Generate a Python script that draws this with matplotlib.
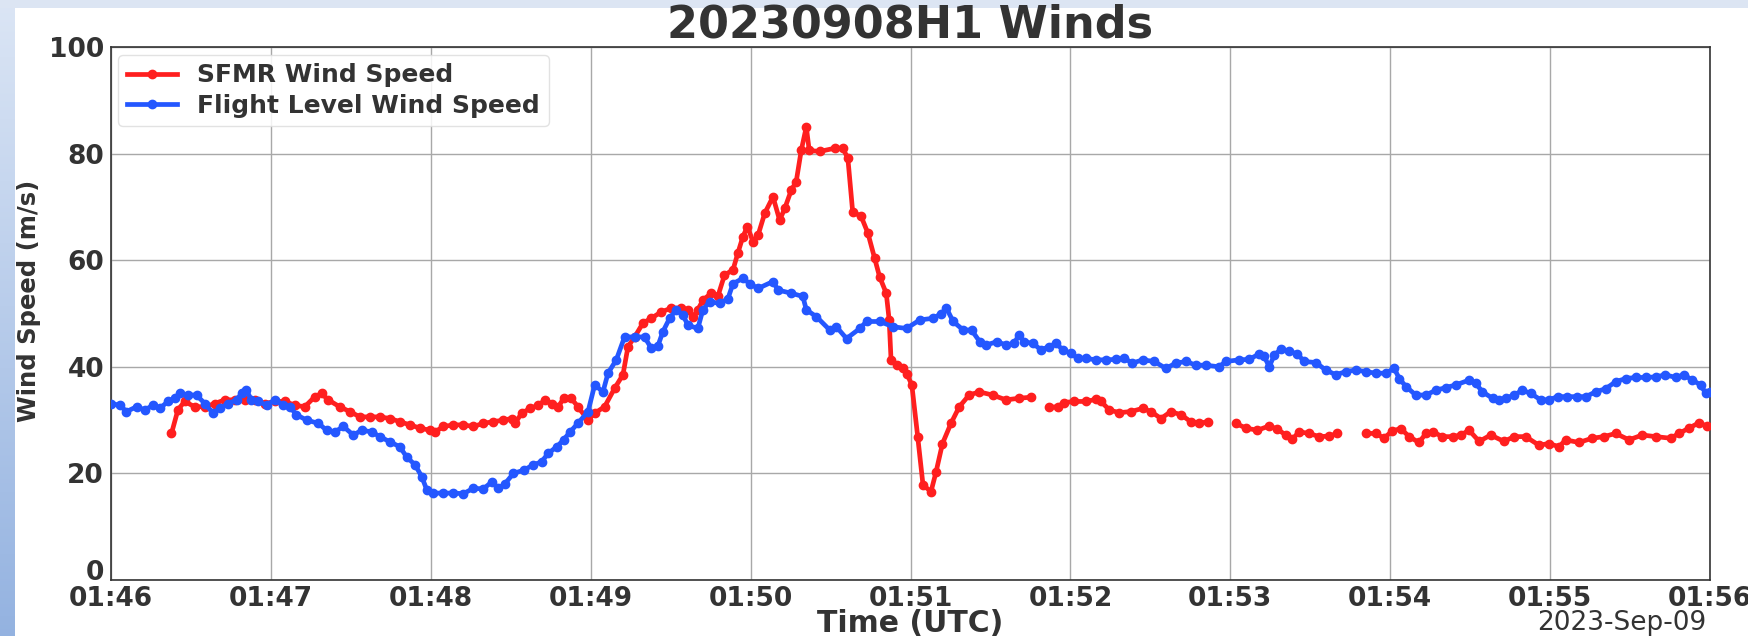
import numpy as np
import pandas as pd
import matplotlib
matplotlib.use("Agg")
import matplotlib.pyplot as plt
import matplotlib.dates as mdates
from matplotlib.patches import Rectangle

# ---------------- data (seconds after 2023-09-09 01:46:00 UTC, m/s) ----------------
fl_seconds = [0, 3.3, 5.8, 9.6, 12.7, 15.8, 18.3, 21.4, 23.9, 25.8, 28.9, 32.1, 35.2, 38.3, 40.8,
              44.0, 47.1, 49.0, 50.8, 52.7, 55.2, 58.4, 61.5, 64.6, 67.1, 69.6, 73.4, 77.8, 80.9,
              84.0, 87.2, 90.9, 94.1, 97.8, 100.9, 104.7, 108.4, 110.9, 114.1, 116.6, 118.5, 121,
              124.7, 128.5, 132.2, 136, 139.7, 142.9, 145.4, 147.9, 151.0, 154.8, 158.5, 161.6,
              164.1, 167.3, 169.8, 172.3, 175.2, 179, 181.5, 184.6, 186.5, 189.6, 192.7, 196.5,
              200.2, 202.7, 205.2, 207.1, 209.6, 212.1, 214.6, 216.5, 220.2, 222.1, 224.6, 228.4,
              231.5, 233.4, 237.1, 239.7, 242.8, 248.4, 250.3, 255.3, 259.6, 260.9, 264.7, 269.7,
              272.2, 276, 281, 283.5, 288.5, 293.5, 298.5, 303.5, 308.5, 311.6, 313.5, 316, 319.8,
              322.9, 326, 328.5, 332.3, 336, 339, 340.6, 342.7, 345.8, 349, 352.1, 354.6, 357.1,
              360.2, 362.7, 365.8, 369.6, 373.3, 377.1, 380.2, 383.3, 387.1, 391.5, 395.8, 399.6,
              403.4, 407.1, 410.8, 415.8, 418.3, 423.3, 427.1, 430.8, 432.7, 434.6, 436.5, 439,
              442.1, 445.2, 447.7, 452.1, 455.8, 459.6, 463.3, 467.1, 470.8, 474.6, 478.3, 481.5,
              483.4, 485.9, 489.6, 493.4, 497.1, 500.9, 504.6, 509.6, 512.1, 514.6, 518.4, 520.9,
              523.3, 526.5, 529.6, 532.7, 536.5, 539.6, 542.8, 546.5, 550.2, 553.4, 557.1, 560.9,
              564.6, 568.4, 572.1, 575.8, 579.6, 583.3, 587.1, 590.2, 593.4, 596.5, 598.4, 600]
fl_speed = [33.1, 32.8, 31.6, 32.5, 31.9, 32.8, 32.2, 33.5, 34.1, 35.0, 34.7, 34.7, 33.1, 31.3, 32.2,
            33.1, 33.8, 35.0, 35.6, 33.8, 33.5, 32.8, 33.8, 32.8, 32.5, 31.0, 30.0, 29.4, 28.1,
            27.8, 28.8, 27.2, 28.1, 27.8, 26.9, 25.9, 25.0, 23.1, 21.6, 19.4, 16.9, 16.3,
            16.3, 16.3, 16.2, 17.2, 17.1, 18.4, 17.2, 18.1, 20.0, 20.6, 21.6, 22.2,
            23.8, 25.0, 26.3, 27.8, 29.4, 31.6, 36.6, 35.3, 38.8, 41.3, 45.6, 45.6,
            45.6, 43.5, 43.9, 46.6, 49.1, 50.7, 49.7, 47.8, 47.2, 50.7, 52.2, 51.9,
            52.8, 55.6, 56.6, 55.6, 54.7, 56.0, 54.4, 53.8, 53.2, 50.7, 49.4, 46.9,
            47.5, 45.3, 47.2, 48.5, 48.5, 47.5, 47.2, 48.8, 49.1, 50.0, 51.0, 48.5, 46.9,
            46.9, 44.7, 44.1, 44.7, 44.1, 44.4, 46.0, 44.7, 44.4, 43.2, 43.8, 44.4, 43.2,
            42.5, 41.6, 41.6, 41.3, 41.3, 41.4, 41.6, 40.7, 41.3, 41.0, 39.7, 40.7,
            41.0, 40.3, 40.3, 40.0, 41.0, 41.3, 41.4, 42.4, 42.0, 40.0, 42.2, 43.3,
            42.9, 42.4, 41.0, 40.8, 39.4, 38.5, 39.1, 39.4, 39.1, 38.8, 38.8, 39.7,
            37.8, 36.3, 34.7, 34.7, 35.6, 36.1, 36.6, 37.5, 36.9, 35.3, 34.1, 33.8,
            34.1, 34.7, 35.6, 35.0, 33.8, 33.8, 34.4, 34.4, 34.4, 34.4, 35.3, 35.9,
            37.2, 37.8, 38.0, 38.0, 38.1, 38.5, 38.0, 38.5, 37.5, 36.6, 35.0, 35.3]

sfmr_seconds = [22.7, 25.1, 27.6, 31.4, 35.2, 38.9, 42.7, 46.4, 50.2, 53.9, 57.7, 61.5, 65.2, 69.0,
                72.7, 76.5, 79.0, 81.5, 85.8, 89.6, 93.4, 97.1, 100.9, 104.7, 108.4, 112.2, 115.9,
                119.7, 121.6, 124.7, 128.5, 132.2, 136, 139.7, 143.5, 147.2, 150.4, 151.6, 154.1,
                157.3, 160.4, 162.9, 165.4, 167.9, 169.8, 172.7, 175.2, 179, 181.5, 185.2, 189,
                192.1, 194, 196.5, 199.6, 202.7, 206.5, 210.2, 214, 216.5, 218.4, 220.2, 222.1,
                225.2, 227.7, 230.2, 233.4, 235.2, 237.1, 238.8, 240.9, 242.8, 245.3, 248.4, 250.9,
                252.8, 255.3, 257.1, 259, 260.9, 262, 265.9, 271.5, 274.6, 276.5, 278.3, 281.5, 284,
                286.5, 288.4, 290.9, 292, 292.7, 295, 297, 298.7, 300.5, 302.7, 304.7, 307.7, 309.6,
                312, 315.2, 318.3, 322, 325.8, 330.8, 335.8, 340.8, 345.2, 348.5,
                352.1, 355.2, 357.7, 361.5, 365.8, 369.6, 371.5, 374.6, 378.3, 382.7, 387.1, 390.2,
                394, 397.7, 401.5, 405.2, 408.3, 411.5, 416.5,
                422.1, 425.8, 430.2, 434.6, 437.7, 440.8, 443.3, 445.8, 449.6, 453.3, 457.1, 460.2,
                465.5,
                470.8, 474.6, 477.7, 480.8, 484, 487.1, 490.8, 493.4, 495.9, 499.6, 503.4, 506.5,
                509.6, 513.4, 517.7, 522.7, 526.5, 530.8, 535.8, 539.6, 543.4, 545.8, 550.8, 555.8,
                560.2, 564.6, 569.6, 574.6, 579.6, 585.2, 588.4, 592.1, 595.9, 599]
sfmr_speed = [27.5, 31.9, 33.5, 32.5, 32.5, 33.1, 33.8, 33.8, 33.8, 33.8, 33.1, 33.5, 33.5, 32.8,
              32.5, 34.4, 35.0, 33.8, 32.5, 31.6, 30.6, 30.6, 30.6, 30.3, 29.7, 29.1, 28.5,
              28.1, 27.8, 28.8, 29.1, 29.1, 28.8, 29.4, 29.7, 30.0, 30.3, 29.4, 31.3,
              32.2, 32.8, 33.8, 33.1, 32.5, 34.1, 34.1, 32.5, 30.0, 31.3, 32.5, 36.0,
              38.5, 43.8, 45.6, 48.2, 49.1, 50.3, 51.0, 51.0, 50.7, 49.4, 50.7, 52.5,
              53.8, 53.2, 57.2, 58.2, 61.3, 64.4, 66.3, 63.5, 64.7, 68.8, 71.9, 67.5,
              69.7, 73.2, 74.7, 80.6, 85.0, 80.6, 80.4, 81.0, 81.0, 79.1, 69.1, 68.2, 65.1,
              60.4, 56.9, 53.8, 48.8, 41.3, 40.4, 39.8, 38.6, 36.6, 26.9, 17.8, 16.6, 20.3,
              25.6, 29.4, 32.5, 34.7, 35.3, 34.7, 33.8, 34.1, 34.3, np.nan,
              32.4, 32.5, 33.3, 33.5, 33.5, 33.9, 33.5, 31.9, 31.4, 31.6, 32.2, 31.6,
              30.3, 31.6, 31.0, 29.7, 29.4, 29.7, np.nan,
              29.4, 28.5, 28.1, 28.9, 28.3, 27.2, 26.4, 27.8, 27.5, 26.9, 27.0, 27.5,
              np.nan,
              27.5, 27.5, 26.6, 28.0, 28.4, 26.9, 25.8, 27.5, 27.8, 26.9, 26.9, 27.2,
              28.1, 26.0, 27.2, 26.0, 26.9, 26.9, 25.3, 25.6, 25.0, 26.3, 25.8, 26.6,
              26.9, 27.5, 26.3, 27.2, 26.9, 26.6, 27.5, 28.5, 29.5, 28.8]

y_ticks = [0, 20, 40, 60, 80, 100]
title_text = "20230908H1 Winds"
date_text = "2023-Sep-09"
start = pd.Timestamp("2023-09-09 01:46:00")
end = pd.Timestamp("2023-09-09 01:56:00")

fl_time = start + pd.to_timedelta(fl_seconds, unit="s")
sfmr_time = start + pd.to_timedelta(sfmr_seconds, unit="s")

# ---------------- figure ----------------
W, H = 1749, 636
fig = plt.figure(figsize=(W / 100, H / 100), dpi=100, facecolor="white")

# slide-like background strips (left gradient, top band)
bg = fig.add_axes([0, 0, 1, 1], zorder=-10)
bg.axis("off")
c0 = np.array([0.86, 0.90, 0.96])
c1 = np.array([0.58, 0.70, 0.88])
grad = np.linspace(0, 1, 256)[:, None, None] * (c1 - c0) + c0
bg.imshow(grad, extent=[0, 15, H, 0], aspect="auto", interpolation="bilinear")
bg.add_patch(Rectangle((0, 0), W, 8, color="#dce5f3", lw=0))
bg.set_xlim(0, W)
bg.set_ylim(H, 0)

txt = "#333333"
ax_px = 580 - 47
ax_w = 1710 - 111
ax = fig.add_axes([111 / W, 1 - 580 / H, ax_w / W, ax_px / H])

ax.plot(sfmr_time, sfmr_speed, color="#ff1f1f", marker="o", markersize=6, linewidth=3.4,
        label="SFMR Wind Speed", zorder=3)
ax.plot(fl_time, fl_speed, color="#2457ff", marker="o", markersize=6, linewidth=3.4,
        label="Flight Level Wind Speed", zorder=3)

ax.set_xlim(start, end)
ax.set_ylim(0, 100)
ax.set_yticks(y_ticks)

ax.xaxis.set_major_locator(mdates.MinuteLocator())
ax.xaxis.set_major_formatter(mdates.DateFormatter("%H:%M"))

ax.grid(True, color="#a8a8a8", linewidth=1)
ax.set_axisbelow(True)
for s in ax.spines.values():
    s.set_color("#333333")
    s.set_linewidth(1.2)

ax.tick_params(axis="both", length=0, labelsize=19, labelcolor=txt)
ax.tick_params(axis="x", pad=4)
ax.tick_params(axis="y", pad=5)
for lab in ax.get_xticklabels() + ax.get_yticklabels():
    lab.set_fontweight("bold")
# the lowest y label sits just above the axis corner
ax.get_yticklabels()[0].set_va("baseline")

ax.set_title(title_text, fontsize=32, fontweight="bold", color=txt, pad=5)
ax.set_ylabel("Wind Speed (m/s)", fontsize=17.5, fontweight="bold", color=txt)
ax.yaxis.set_label_coords(-(111 - 41) / ax_w, 0.5 + 13 / ax_px)
ax.set_xlabel("Time (UTC)", fontsize=21.5, fontweight="bold", color=txt)
ax.xaxis.label.set_va("baseline")
ax.xaxis.set_label_coords(0.5, -(631.5 - 580) / ax_px)

ax.text(0.998, -(630 - 580) / ax_px, date_text, transform=ax.transAxes,
        ha="right", va="baseline", fontsize=19, color=txt)

leg = ax.legend(loc="upper left", prop={"size": 18, "weight": "bold"}, frameon=True,
                fancybox=True, framealpha=0.85, edgecolor="#dddddd", borderaxespad=0.3,
                labelspacing=0.25, borderpad=0.35)
for t in leg.get_texts():
    t.set_color(txt)

fig.savefig("out.png", dpi=100, facecolor="white")
